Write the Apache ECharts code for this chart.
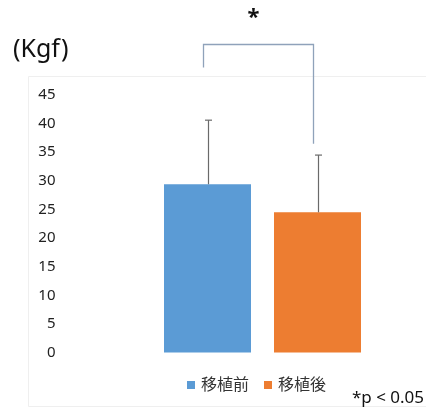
<!DOCTYPE html>
<html>
<head>
<meta charset="utf-8">
<script src="https://cdn.jsdelivr.net/npm/echarts@6/dist/echarts.min.js"></script>
<style>
  html, body { margin: 0; padding: 0; background: #fff; }
  #chart { width: 426px; height: 413px; }
</style>
</head>
<body>
<div id="chart"></div>
<script>
// Grip strength before and after transplantation (mean + SD)
const categories = ['移植前', '移植後'];
const seriesNames = ['移植前', '移植後'];
const meanValues = [29.4, 24.5];
const upperValues = [40.6, 34.5];   // mean + SD
const bracketLegs = [49.8, 36.5];   // lower ends of the significance bracket
const bracketTop = 53.9;
const yTicks = { min: 0, max: 45, interval: 5 };
const colors = ['#5B9BD5', '#ED7D31'];

const FONT = '"Noto Sans", "Noto Sans CJK JP", sans-serif';

const chart = echarts.init(document.getElementById('chart'), null, { renderer: 'canvas' });

const barSeries = seriesNames.map((name, i) => ({
  name: name,
  type: 'bar',
  stack: 'one',
  barWidth: 87,
  itemStyle: { color: colors[i] },
  data: categories.map((c, j) => (j === i ? meanValues[i] : '-'))
}));

const errorSeries = {
  type: 'custom',
  silent: true,
  z: 5,
  data: meanValues.map((m, i) => [i, m, upperValues[i]]),
  renderItem: function (params, api) {
    const x = api.value(0);
    const p0 = api.coord([x, api.value(1)]);
    const p1 = api.coord([x, api.value(2)]);
    const cx = Math.round(p0[0]) + 0.5;
    const style = { stroke: '#6a6a6a', lineWidth: 1.2 };
    return {
      type: 'group',
      children: [
        { type: 'line', shape: { x1: cx, y1: p0[1], x2: cx, y2: p1[1] }, style: style },
        { type: 'line', shape: { x1: cx - 3.5, y1: p1[1], x2: cx + 3.5, y2: p1[1] }, style: style }
      ]
    };
  }
};

const bracketSeries = {
  type: 'custom',
  silent: true,
  clip: false,
  z: 6,
  data: [[0, 1]],
  renderItem: function (params, api) {
    const a = api.coord([0, bracketLegs[0]]);
    const b = api.coord([1, bracketLegs[1]]);
    const t = api.coord([0, bracketTop]);
    const xl = Math.round(a[0] - 5) + 0.5;
    const xr = Math.round(b[0] - 5) + 0.5;
    const yt = Math.round(t[1]) + 0.5;
    const style = { stroke: '#8FA2BA', lineWidth: 1.3, fill: null };
    return {
      type: 'group',
      children: [
        { type: 'polyline', shape: { points: [[xl, a[1]], [xl, yt], [xr, yt], [xr, b[1]]] }, style: style },
        { type: 'text', style: { x: (xl + xr) / 2 - 5, y: yt - 27, text: '*', fill: '#111',
          font: 'bold 22px ' + FONT, align: 'center', verticalAlign: 'middle' } }
      ]
    };
  }
};

chart.setOption({
  animation: false,
  backgroundColor: '#fff',
  grid: { left: 152.5, right: 53.5, top: 95, bottom: 60.5 },
  xAxis: {
    type: 'category',
    data: categories,
    axisLine: { show: false },
    axisTick: { show: false },
    axisLabel: { show: false }
  },
  yAxis: {
    type: 'value',
    min: yTicks.min,
    max: yTicks.max,
    interval: yTicks.interval,
    axisLine: { show: false },
    axisTick: { show: false },
    splitLine: { show: false },
    axisLabel: { margin: 97, color: '#222', fontSize: 15, fontFamily: FONT }
  },
  legend: {
    data: seriesNames,
    left: 182,
    top: 372,
    icon: 'rect',
    itemWidth: 8,
    itemHeight: 8,
    itemGap: 15,
    textStyle: { fontSize: 16, color: '#333', fontFamily: FONT, padding: [0, 0, 0, 1] }
  },
  graphic: [
    { type: 'rect', silent: true, z: -10,
      shape: { x: 28.5, y: 76.5, width: 420, height: 330 },
      style: { fill: 'none', stroke: '#efefef', lineWidth: 1 } },
    { type: 'text', left: 13, top: 37,
      style: { text: '(Kgf)', font: '25px ' + FONT, fill: '#111' } },
    { type: 'text', right: 2, top: 390,
      style: { text: '*p < 0.05', font: '17px ' + FONT, fill: '#111' } }
  ],
  series: barSeries.concat([errorSeries, bracketSeries])
});
</script>
</body>
</html>
